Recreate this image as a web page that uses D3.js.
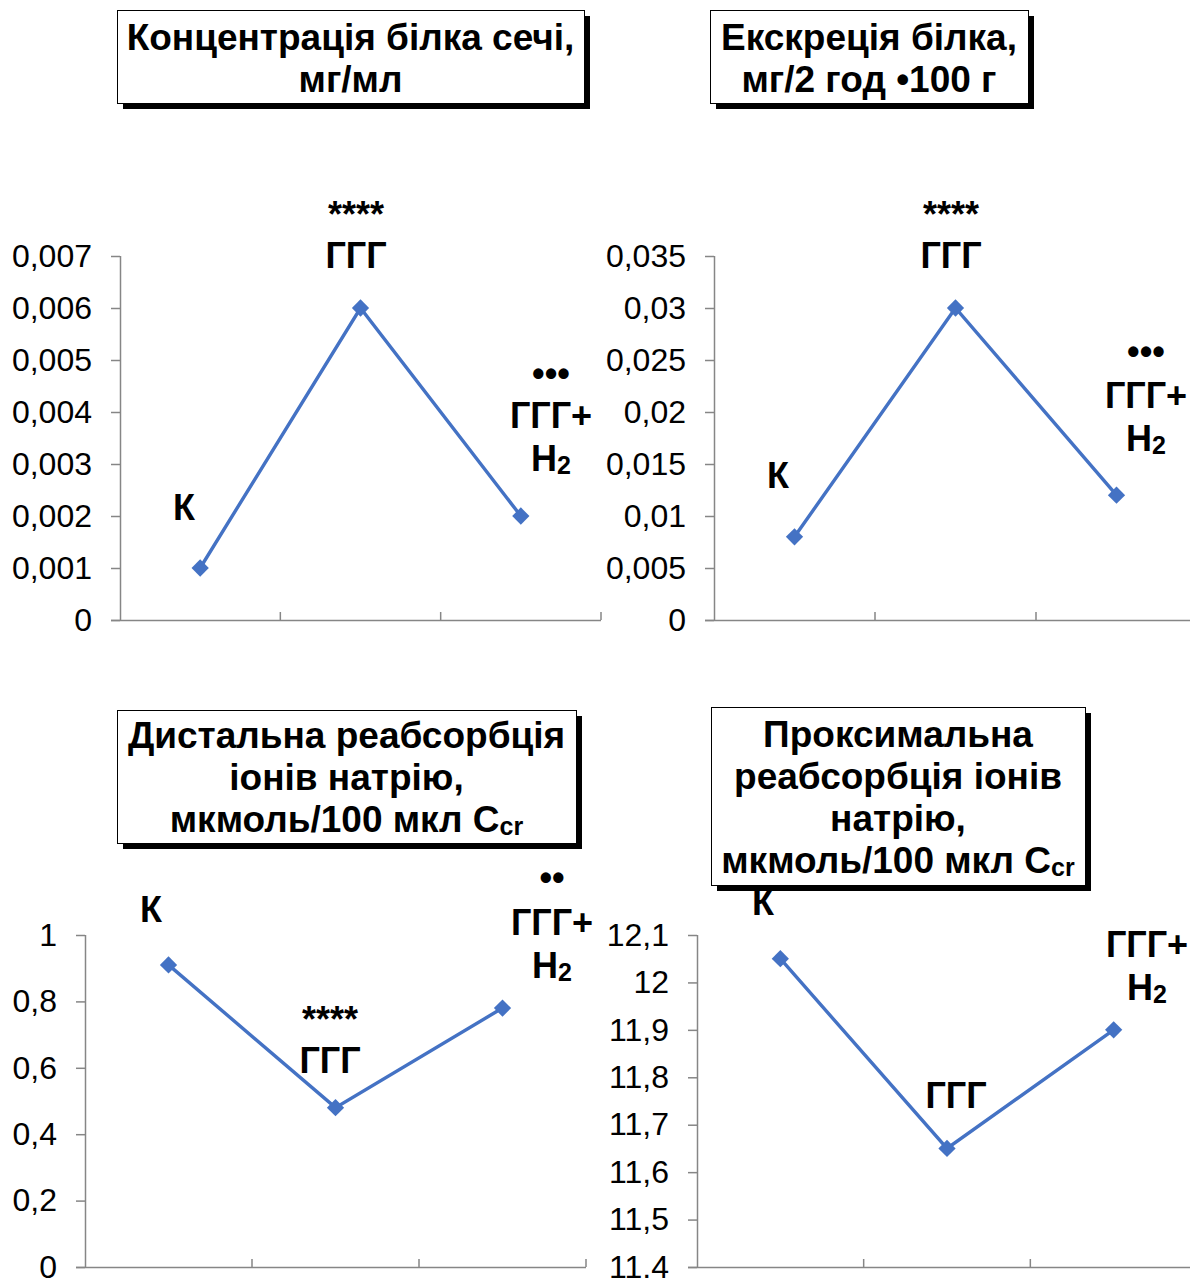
<!DOCTYPE html>
<html lang="uk">
<head>
<meta charset="utf-8">
<script src="https://cdn.jsdelivr.net/npm/d3@7/dist/d3.min.js"></script>
<style>
  html, body { margin: 0; padding: 0; background: #fff; }
  svg { display: block; }
  text { font-family: "Liberation Sans", Arial, sans-serif; fill: #000; }
</style>
</head>
<body>
<svg id="chart" width="1190" height="1278"></svg>
<script>
// Groups compared in every panel
const categories = ["К", "ГГГ", "ГГГ+H2"];

// Series values, one array per panel
const proteinConcentration = [0.001, 0.006, 0.002];   // мг/мл
const proteinExcretion     = [0.008, 0.030, 0.012];   // мг/2 год •100 г
const distalReabsorption   = [0.91, 0.48, 0.78];      // мкмоль/100 мкл Ccr
const proximalReabsorption = [12.05, 11.65, 11.90];   // мкмоль/100 мкл Ccr

// Y-axis tick values
const ticksConcentration = [0, 0.001, 0.002, 0.003, 0.004, 0.005, 0.006, 0.007];
const ticksExcretion     = [0, 0.005, 0.01, 0.015, 0.02, 0.025, 0.03, 0.035];
const ticksDistal        = [0, 0.2, 0.4, 0.6, 0.8, 1];
const ticksProximal      = [11.4, 11.5, 11.6, 11.7, 11.8, 11.9, 12, 12.1];

// Significance marks above group labels
const marksConcentration = ["", "****", "•••"];
const marksExcretion     = ["", "****", "•••"];
const marksDistal        = ["", "****", "••"];
const marksProximal      = ["", "", ""];

// Panel titles (one entry per line)
const titleConcentration = ["Концентрація білка сечі,", "мг/мл"];
const titleExcretion     = ["Екскреція білка,", "мг/2 год •100 г"];
const titleDistal        = ["Дистальна реабсорбція", "іонів натрію,", "мкмоль/100 мкл C|cr"];
const titleProximal      = ["Проксимальна", "реабсорбція іонів", "натрію,", "мкмоль/100 мкл C|cr"];

const LINE_COLOR = "#4472C4";
const AXIS_COLOR = "#868686";

const panels = [
  { values: proteinConcentration, ticks: ticksConcentration, marks: marksConcentration, title: titleConcentration,
    domain: [0, 0.007], x0: 120, x1: 601, yTop: 256, yBottom: 620,
    box: { x: 117, y: 10, w: 467, h: 93, base: 50 },
    labels: [ { cx: 184, base: 520 }, { cx: 356, base: 268, mark: 227 }, { cx: 551, base: 428, mark: 386 } ] },
  { values: proteinExcretion, ticks: ticksExcretion, marks: marksExcretion, title: titleExcretion,
    domain: [0, 0.035], x0: 714, x1: 1197, yTop: 256, yBottom: 620,
    box: { x: 710, y: 10, w: 318, h: 93, base: 50 },
    labels: [ { cx: 778, base: 488 }, { cx: 951, base: 268, mark: 227 }, { cx: 1146, base: 408, mark: 364 } ] },
  { values: distalReabsorption, ticks: ticksDistal, marks: marksDistal, title: titleDistal,
    domain: [0, 1], x0: 85, x1: 586, yTop: 935, yBottom: 1267,
    box: { x: 117, y: 710, w: 459, h: 133, base: 748 },
    labels: [ { cx: 151, base: 922 }, { cx: 330, base: 1073, mark: 1032 }, { cx: 552, base: 935, mark: 890 } ] },
  { values: proximalReabsorption, ticks: ticksProximal, marks: marksProximal, title: titleProximal,
    domain: [11.4, 12.1], x0: 697, x1: 1197, yTop: 935, yBottom: 1267,
    box: { x: 711, y: 707, w: 374, h: 178, base: 747 },
    labels: [ { cx: 763, base: 915 }, { cx: 956, base: 1108 }, { cx: 1147, base: 957 } ] }
];

const svg = d3.select("#chart");
const fmt = v => String(+v.toFixed(4)).replace(".", ",");

// Writes a label where a "H2"-style digit or "|cr" suffix becomes a small subscript
function richText(sel, str, bigSize, smallSize) {
  let main = str, sub = null;
  if (str.includes("|")) { [main, sub] = str.split("|"); }
  else if (/H2$/.test(str)) { main = str.slice(0, -1); sub = "2"; }
  sel.append("tspan").style("font-size", bigSize + "px").text(main);
  if (sub) sel.append("tspan").style("font-size", smallSize + "px").attr("dy", 3).text(sub);
}

panels.forEach(p => {
  const g = svg.append("g");

  const x = d3.scaleBand().domain(categories).range([p.x0, p.x1]).padding(0);
  const y = d3.scaleLinear().domain(p.domain).range([p.yBottom, p.yTop]);

  // Y axis
  const yAxis = d3.axisLeft(y).tickValues(p.ticks).tickFormat(fmt).tickSize(9).tickPadding(19);
  const ya = g.append("g").attr("transform", `translate(${p.x0},0)`).call(yAxis);
  ya.select(".domain").attr("stroke", AXIS_COLOR).attr("stroke-width", 1.5)
    .attr("d", `M0.5,${p.yTop}V${p.yBottom}`);
  ya.selectAll(".tick line").attr("stroke", AXIS_COLOR).attr("stroke-width", 1.5);
  ya.selectAll(".tick text").style("font-size", "32px").style("font-family", "'Liberation Sans', Arial, sans-serif")
    .attr("fill", "#000");

  // Category axis: baseline with boundary ticks pointing inward
  const xa = g.append("g");
  xa.append("line").attr("x1", p.x0 - 9).attr("x2", p.x1).attr("y1", p.yBottom + 0.5).attr("y2", p.yBottom + 0.5)
    .attr("stroke", AXIS_COLOR).attr("stroke-width", 1.5);
  const bounds = categories.slice(1).map(c => x(c)).concat([x.range()[1]]);
  xa.selectAll("line.cat").data(bounds).join("line").attr("class", "cat")
    .attr("x1", d => d).attr("x2", d => d).attr("y1", p.yBottom - 8).attr("y2", p.yBottom)
    .attr("stroke", AXIS_COLOR).attr("stroke-width", 1.5);

  // Series line and diamond markers
  const pts = categories.map((c, i) => [x(c) + x.bandwidth() / 2, y(p.values[i])]);
  g.append("path").attr("d", d3.line()(pts)).attr("fill", "none")
    .attr("stroke", LINE_COLOR).attr("stroke-width", 3.4);
  g.selectAll("path.marker").data(pts).join("path").attr("class", "marker")
    .attr("transform", d => `translate(${d[0]},${d[1]})`)
    .attr("d", d3.symbol(d3.symbolDiamond2, 190)).attr("fill", LINE_COLOR);

  // Group labels and significance marks
  categories.forEach((c, i) => {
    const lab = p.labels[i];
    const lines = c === "ГГГ+H2" ? ["ГГГ+", "H2"] : [c];
    lines.forEach((ln, k) => {
      const t = g.append("text").attr("x", lab.cx).attr("y", lab.base + k * 43)
        .attr("text-anchor", "middle").style("font-weight", "bold");
      richText(t, ln, 36, 25);
    });
    if (p.marks[i]) {
      g.append("text").attr("x", lab.cx).attr("y", lab.mark).attr("text-anchor", "middle")
        .style("font-weight", "bold").style("font-size", "36px").text(p.marks[i]);
    }
  });

  // Title box with solid drop shadow
  const b = p.box;
  const tb = g.append("g");
  tb.append("rect").attr("x", b.x + 6).attr("y", b.y + 6).attr("width", b.w).attr("height", b.h).attr("fill", "#000");
  tb.append("rect").attr("x", b.x + 0.5).attr("y", b.y + 0.5).attr("width", b.w).attr("height", b.h)
    .attr("fill", "#fff").attr("stroke", "#000").attr("stroke-width", 1);
  p.title.forEach((ln, k) => {
    const t = tb.append("text").attr("x", b.x + b.w / 2).attr("y", b.base + k * 42)
      .attr("text-anchor", "middle").style("font-weight", "bold");
    richText(t, ln, 37, 25);
  });
});
</script>
</body>
</html>
